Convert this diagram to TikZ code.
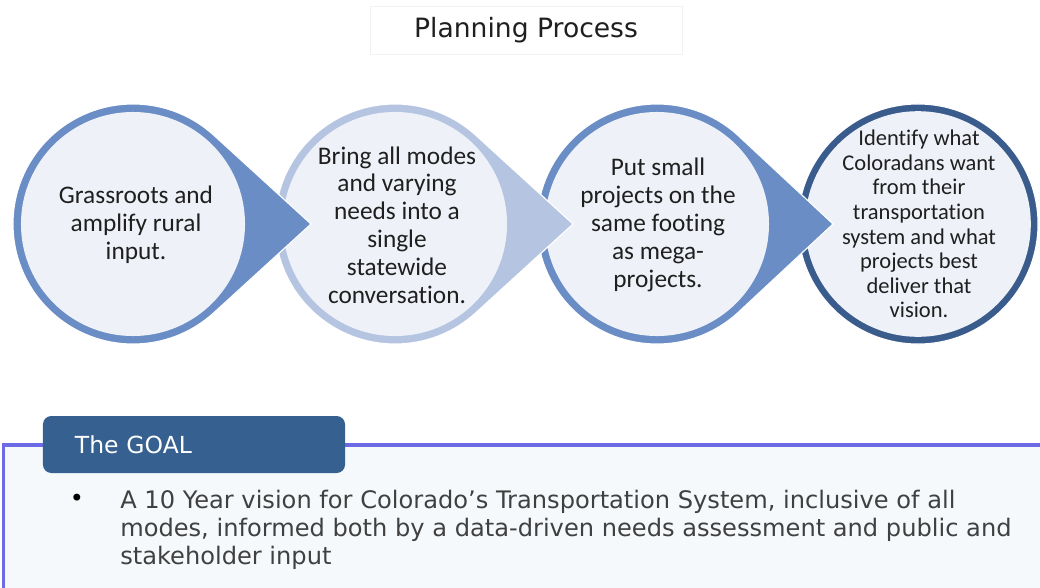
\documentclass[tikz,border=0pt]{standalone}
\usepackage{fontspec}
\setmainfont{Carlito}[Ligatures=NoCommon]
\newfontfamily\goalfont{DejaVu Sans}
\usetikzlibrary{calc}

\definecolor{ringmid}{RGB}{106,141,198}
\definecolor{ringlight}{RGB}{181,197,225}
\definecolor{ringdark}{RGB}{58,92,141}
\definecolor{stepfill}{RGB}{238,241,247}
\definecolor{goalblue}{RGB}{54,96,143}
\definecolor{goalline}{RGB}{108,106,228}
\definecolor{goalbg}{RGB}{245,249,251}
\definecolor{goalgray}{RGB}{64,64,64}

\begin{document}
\begin{tikzpicture}[
  x=0.025cm, y=-0.025cm,
  stepshape/.style={draw=white, line width=0.8pt},
  stepinner/.style={fill=stepfill},
  steptext/.style={align=center, text=black!88, font=\fontsize{18}{19.8}\selectfont},
  smalltext/.style={align=center, text=black!88, font=\fontsize{16}{17.5}\selectfont},
  titlebox/.style={draw=black!5, fill=white, minimum width=7.8cm, minimum height=1.2cm, text=black!88, font=\goalfont\fontsize{18.9}{22}\selectfont},
  goalframe/.style={draw=goalline, line width=2.8pt, fill=goalbg},
  goaltab/.style={fill=goalblue, rounded corners=6pt, text=white, minimum height=1.425cm, inner xsep=0.8cm, text width=5.95cm, align=left, font=\goalfont\fontsize{16.7}{20}\selectfont},
  goaltext/.style={anchor=north west, inner sep=0pt, align=left, text=goalgray, font=\goalfont\fontsize{17.15}{19.85}\selectfont}
  ]
  \useasboundingbox (0,0) rectangle (1040,587);
  \clip (0,0) rectangle (1040,587);

  % Title
  \node (title) [titlebox] at (526,30) {Planning Process};

  % Step centres and arrow tips
  \coordinate (s1) at (133,224);
  \coordinate (s2) at (395,224);
  \coordinate (s3) at (657,224);
  \coordinate (s4) at (918,224);
  \coordinate (t1) at (311,224);
  \coordinate (t2) at (573,224);
  \coordinate (t3) at (833,224);

  % Steps, drawn right to left
  \filldraw[fill=ringdark, stepshape] (s4) circle[radius=3cm];
  \fill[stepinner] (s4) circle[radius=2.82cm];

  \filldraw[fill=ringmid, stepshape] ($(s3)+(47.6:3cm)$) arc[start angle=47.6, end angle=312.4, radius=3cm] -- (t3) -- cycle;
  \fill[stepinner] (s3) circle[radius=2.8cm];

  \filldraw[fill=ringlight, stepshape] ($(s2)+(47.6:3cm)$) arc[start angle=47.6, end angle=312.4, radius=3cm] -- (t2) -- cycle;
  \fill[stepinner] (s2) circle[radius=2.8cm];

  \filldraw[fill=ringmid, stepshape] ($(s1)+(47.6:3cm)$) arc[start angle=47.6, end angle=312.4, radius=3cm] -- (t1) -- cycle;
  \fill[stepinner] (s1) circle[radius=2.8cm];

  % Step texts
  \node (grass) [steptext] at (136,225) {Grassroots and\\amplify rural\\input.};
  \node (modes) [steptext] at (397,225) {Bring all modes\\and varying\\needs into a\\single\\statewide\\conversation.};
  \node (small) [steptext] at (658,225) {Put small\\projects on the\\same footing\\as mega-\\projects.};
  \node (vision) [smalltext] at (919,224) {Identify what\\Coloradans want\\from their\\transportation\\system and what\\projects best\\deliver that\\vision.};

  % Goal box
  \draw[goalframe] (3.5,445) rectangle (1060,620);
  \node (goal) [goaltab] at (194,444.5) {The GOAL};
  \node (bullet) [text=black, font=\goalfont\fontsize{17}{19}\selectfont] at (77,500) {•};
  \node (goaltxt) [goaltext] at (120,490) {A 10 Year vision for Colorado’s Transportation System, inclusive of all\\modes, informed both by a data-driven needs assessment and public and\\stakeholder input};

\end{tikzpicture}
\end{document}
